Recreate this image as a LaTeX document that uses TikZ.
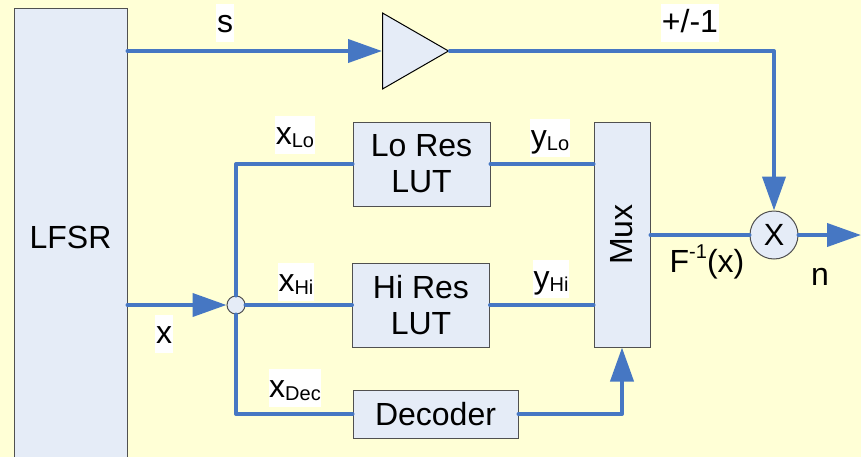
\documentclass[tikz,border=0pt]{standalone}
\usepackage{fontspec}
\setmainfont{Liberation Sans}
\usepackage{tikz}
\usetikzlibrary{arrows.meta, shapes.geometric}
\definecolor{bgfill}{HTML}{FFFFD6}
\definecolor{blkfill}{HTML}{E5ECF7}
\definecolor{blkline}{HTML}{505050}
\definecolor{sigline}{HTML}{4677C3}
\newcommand{\lblsub}[1]{\raisebox{-0.12em}{\fontsize{15}{15}\selectfont #1}}
\newcommand{\lblsup}[1]{\raisebox{0.45em}{\fontsize{15}{15}\selectfont #1}}
\tikzset{
  blk/.style   = {rectangle, draw=blkline, fill=blkfill, line width=0.75pt,
                  align=center, inner sep=0pt},
  joint/.style = {circle, draw=blkline, fill=blkfill, line width=0.75pt, inner sep=0pt},
  lbl/.style   = {fill=white, inner xsep=0.5pt, inner ysep=0pt, text height=21pt, text depth=7.5pt},
  wire/.style  = {line width=3pt, draw=sigline, line cap=round, line join=round},
  flow/.style  = {wire, -{Triangle[length=25.5pt, width=17.25pt]}},
}

\begin{document}
\begin{tikzpicture}[x=0.75pt, y=-0.75pt, font=\fontsize{24}{27}\selectfont]
	\clip (0,0) rectangle (861,457);
	\fill[bgfill] (0,0) rectangle (861,457);
	\node[blk, minimum width=84.75pt, minimum height=343.5pt] (lfsr) at (70.5,237) {LFSR};
	\node[blk, minimum width=102.75pt, minimum height=63pt] (lo) at (421.5,164) {Lo Res\\LUT};
	\node[blk, minimum width=102.75pt, minimum height=63pt] (hi) at (421,305) {Hi Res\\LUT};
	\node[blk, minimum width=123.75pt, minimum height=36pt] (dec) at (435.5,414) {Decoder};
	\node[blk, minimum width=42pt, minimum height=168.75pt] (mux) at (622,234.5) {\rotatebox{90}{Mux}};
	\node[joint, minimum size=36pt, font=\fontsize{23}{23}\selectfont] (mult) at (774,235) {X};
	\node[joint, minimum size=13.5pt] (junc) at (236,305) {};
	\node[isosceles triangle, isosceles triangle stretches, draw=black, fill=blkfill, line width=0.75pt,
	      minimum width=57pt, minimum height=49.5pt, inner sep=0pt, anchor=west] (amp) at (382,51) {};
	\coordinate (nout) at (861,235);
	\node[lbl] (ls) at (225,23) {s};
	\node[lbl] (lpm) at (690,23) {+/-1};
	\node[lbl] (lxlo) at (295,135) {x\lblsub{Lo}};
	\node[lbl] (lxhi) at (296,282) {x\lblsub{Hi}};
	\node[lbl] (lx) at (164,334) {x};
	\node[lbl] (lxdec) at (295,388) {x\lblsub{Dec}};
	\node[lbl] (lylo) at (550,138) {y\lblsub{Lo}};
	\node[lbl] (lyhi) at (551,279) {y\lblsub{Hi}};
	\node[inner sep=0pt] (lfinv) at (707,262) {F\lblsup{-1}(x)};
	\node[inner sep=0pt] (ln) at (820,277) {n};
	\draw[flow] (lfsr.east |- amp.west) -- (amp.west);
	\draw[flow] (amp.east) -| (mult.north);
	\draw[flow] (lfsr.east |- junc.west) -- (junc.west);
	\draw[wire] (junc.north) |- (lo.west);
	\draw[wire] (junc.east) -- (hi.west);
	\draw[wire] (junc.south) |- (dec.west);
	\draw[wire] (lo.east) -- (mux.west |- lo.east);
	\draw[wire] (hi.east) -- (mux.west |- hi.east);
	\draw[flow] (dec.east) -| (mux.south);
	\draw[wire] (mux.east |- mult.west) -- (mult.west);
	\draw[flow] (mult.east) -- (nout);
\end{tikzpicture}
\end{document}
